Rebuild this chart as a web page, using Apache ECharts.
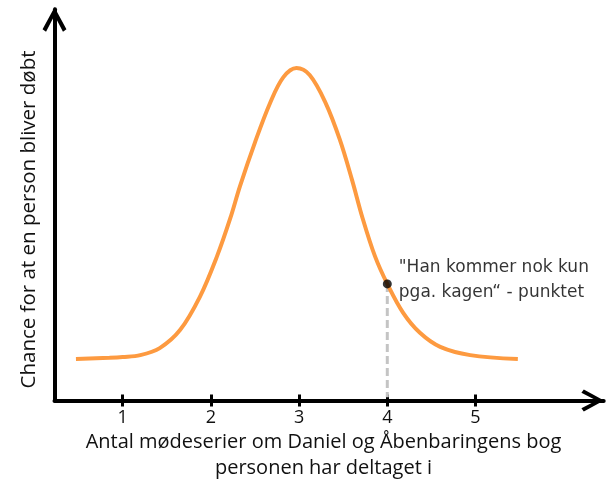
<!DOCTYPE html>
<html>
<head>
<meta charset="utf-8">
<script src="https://cdn.jsdelivr.net/npm/echarts@6/dist/echarts.min.js"></script>
<style>html,body{margin:0;padding:0;background:#fff}#c{width:613px;height:484px}</style>
</head>
<body>
<div id="c"></div>
<script>
// Data
const curveX = [0.47, 0.85, 1.0, 1.2, 1.42, 1.65, 1.875, 2.07, 2.22, 2.33, 2.5, 2.67, 2.82, 2.97, 3.12, 3.3, 3.46, 3.6, 3.72, 3.86, 4.0, 4.18, 4.37, 4.6, 4.94, 5.48];
const curveY = [10.6, 10.9, 11.1, 11.6, 13.4, 18.0, 26.5, 36.9, 46.6, 54.8, 66.0, 76.0, 82.6, 85.0, 83.2, 76.1, 66.8, 56.4, 46.6, 36.9, 29.8, 22.4, 17.3, 13.7, 11.6, 10.6];
const tickValues = [1, 2, 3, 4, 5];
const pointX = [4];
const pointY = [29.8];
const pointLabel = '"Han kommer nok kun\npga. kagen\u201c - punktet';
const xTitle = 'Antal m\u00f8deserier om Daniel og \u00c5benbaringens bog\npersonen har deltaget i';
const yTitle = 'Chance for at en person bliver d\u00f8bt';

const chevron = 'path://M12,0 L24,22 L20.5,24.6 L12,8.2 L3.5,24.6 L0,22 Z';
const textColor = '#111111';
const font = '"Open Sans", "Noto Sans", sans-serif';

const chart = echarts.init(document.getElementById('c'), null, {renderer: 'canvas'});
const curve = curveX.map((x, i) => [x, curveY[i]]);
const pts = pointX.map((x, i) => [x, pointY[i]]);
const drop = [[pointX[0], pointY[0]], [pointX[0], 0.8]];

chart.setOption({
  animation: false,
  backgroundColor: '#ffffff',
  grid: {left: 54.5, right: 9.3, top: 9.3, bottom: 83.5, outerBoundsMode: 'none'},
  xAxis: [{
    type: 'value', min: 0.2268, max: 6.4535,
    splitLine: {show: false},
    axisLine: {show: true, onZero: false,
      lineStyle: {color: '#000', width: 4},
      symbol: ['none', chevron], symbolSize: [22, 26], symbolOffset: [0, -11]},
    axisTick: {show: true, customValues: tickValues, length: 6, lineStyle: {color: '#000', width: 3}},
    axisLabel: {show: true, customValues: tickValues, margin: 8, color: textColor, fontSize: 18, fontFamily: font}
  }, {
    type: 'value', min: 0.2268, max: 6.4535, position: 'bottom',
    splitLine: {show: false},
    axisLine: {show: false, onZero: false},
    axisTick: {show: true, inside: true, customValues: tickValues, length: 6, lineStyle: {color: '#000', width: 3}},
    axisLabel: {show: false}
  }],
  yAxis: {
    type: 'value', min: 0, max: 100,
    splitLine: {show: false},
    axisTick: {show: false},
    axisLabel: {show: false},
    axisLine: {show: true, onZero: false,
      lineStyle: {color: '#000', width: 4},
      symbol: ['none', chevron], symbolSize: [24, 24.5], symbolOffset: [0, -10.25]}
  },
  series: [{
    type: 'line', data: curve, smooth: 0.35, showSymbol: false, symbol: 'none',
    lineStyle: {color: '#fd9a40', width: 4}, z: 3
  }, {
    type: 'line', data: drop, showSymbol: false, symbol: 'none',
    lineStyle: {color: '#c4c4c4', width: 3, type: [8, 4]}, z: 2
  }, {
    type: 'scatter', data: pts, symbolSize: 9, itemStyle: {color: '#000'}, z: 5,
    label: {show: true, position: 'right', distance: 7, offset: [0, -4],
      formatter: pointLabel, color: '#000', fontFamily: '"DejaVu Sans", sans-serif',
      fontSize: 17, lineHeight: 25, align: 'left', textBorderWidth: 0}
  }],
  graphic: [{
    type: 'text', x: 323.5, y: 455,
    style: {text: xTitle, fill: textColor, font: '20px ' + font, textAlign: 'center', textVerticalAlign: 'middle', lineHeight: 26}
  }, {
    type: 'text', x: 29, y: 219.5, rotation: Math.PI / 2,
    style: {text: yTitle, fill: textColor, font: '20.5px ' + font, textAlign: 'center', textVerticalAlign: 'middle'}
  }]
});
</script>
</body>
</html>
